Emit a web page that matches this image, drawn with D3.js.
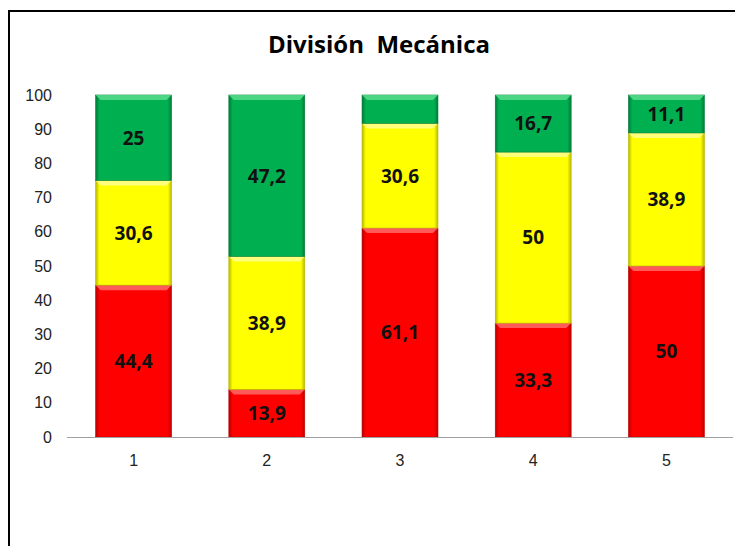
<!DOCTYPE html>
<html>
<head>
<meta charset="utf-8">
<script src="https://cdn.jsdelivr.net/npm/d3@7"></script>
<style>
  body { margin: 0; background: #fff; }
  svg { display: block; font-family: "Open Sans", "Noto Sans", sans-serif; }
  .tick text { font-size: 16px; fill: #222; }
  .val { font-size: 19px; font-weight: bold; fill: #111; }
</style>
</head>
<body>
<svg id="chart"></svg>
<script>
const categories = ['1', '2', '3', '4', '5'];
const rojo     = [44.4, 13.9, 61.1, 33.3, 50];
const amarillo = [30.6, 38.9, 30.6, 50, 38.9];
const verde    = [25, 47.2, 8.3, 16.7, 11.1];
// bar 3 green segment has no label in the original
const showLabel = {verde: [true, true, false, true, true]};
const yTicks = [0, 10, 20, 30, 40, 50, 60, 70, 80, 90, 100];

const width = 735, height = 546;
const margin = {top: 95, right: 2, bottom: 109, left: 67};

const svg = d3.select('#chart')
    .attr('width', width)
    .attr('height', height);

// frame
svg.append('path')
    .attr('d', `M9,${height} V11 H${width}`)
    .attr('fill', 'none')
    .attr('stroke', '#000')
    .attr('stroke-width', 2);

svg.append('text')
    .attr('x', 379)
    .attr('y', 53)
    .attr('text-anchor', 'middle')
    .style('font-size', '24px')
    .style('font-weight', 'bold')
    .style('white-space', 'pre')
    .text('División  Mecánica');

const x = d3.scaleBand()
    .domain(categories)
    .range([margin.left, width - margin.right])
    .paddingInner(0.43)
    .paddingOuter(0.215);

const y = d3.scaleLinear()
    .domain([0, 100])
    .range([height - margin.bottom, margin.top]);

const series = [
  {key: 'rojo', values: rojo, color: '#ff0000', edge: '#b80000', light: '#ff7070'},
  {key: 'amarillo', values: amarillo, color: '#ffff00', edge: '#b8b800', light: '#ffff9a'},
  {key: 'verde', values: verde, color: '#00b050', edge: '#007a38', light: '#5fe090'}
];

const rows = categories.map((c, i) => {
  const r = {cat: c};
  series.forEach(s => r[s.key] = s.values[i]);
  return r;
});
const stacked = d3.stack().keys(series.map(s => s.key))(rows);

const defs = svg.append('defs');
series.forEach(s => {
  const g = defs.append('linearGradient').attr('id', 'g-' + s.key)
      .attr('x1', 0).attr('x2', 1).attr('y1', 0).attr('y2', 0);
  g.append('stop').attr('offset', '0%').attr('stop-color', s.edge);
  g.append('stop').attr('offset', '5%').attr('stop-color', s.color);
  g.append('stop').attr('offset', '95%').attr('stop-color', s.color);
  g.append('stop').attr('offset', '100%').attr('stop-color', s.edge);
});

// y axis (labels only)
const yAxis = d3.axisLeft(y).tickValues(yTicks).tickSize(0).tickPadding(15);
svg.append('g')
    .attr('transform', `translate(${margin.left},0)`)
    .call(yAxis)
    .call(g => g.select('.domain').remove());

const bw = x.bandwidth();
const bev = 5;

stacked.forEach((layer, li) => {
  const s = series[li];
  const g = svg.append('g');
  layer.forEach((d, i) => {
    const x0 = x(categories[i]);
    const yt = y(d[1]), yb = y(d[0]);
    g.append('rect')
        .attr('x', x0).attr('y', yt)
        .attr('width', bw).attr('height', yb - yt)
        .attr('fill', `url(#g-${s.key})`)
        .attr('stroke', s.edge)
        .attr('stroke-width', 0.6);
    // top bevel
    g.append('path')
        .attr('d', `M${x0},${yt} H${x0 + bw} L${x0 + bw - bev},${yt + bev} H${x0 + bev} Z`)
        .attr('fill', s.light)
        .attr('opacity', 0.8);
  });
});

// value labels
stacked.forEach((layer, li) => {
  const s = series[li];
  svg.append('g').selectAll('text')
      .data(layer.map((d, i) => ({d, i})).filter(o => !showLabel[s.key] || showLabel[s.key][o.i]))
      .enter().append('text')
      .attr('class', 'val')
      .attr('x', o => x(categories[o.i]) + bw / 2)
      .attr('y', o => (y(o.d[0]) + y(o.d[1])) / 2)
      .attr('dy', '0.36em')
      .attr('text-anchor', 'middle')
      .text(o => String(s.values[o.i]).replace('.', ','));
});

// x axis
const xAxis = d3.axisBottom(x).tickSize(0).tickPadding(18);
svg.append('g')
    .attr('transform', `translate(0,${y(0)})`)
    .call(xAxis)
    .call(g => g.select('.domain').attr('stroke', '#a0a0a0').attr('d', `M${margin.left},0.5H${width - margin.right}`));
</script>
</body>
</html>
